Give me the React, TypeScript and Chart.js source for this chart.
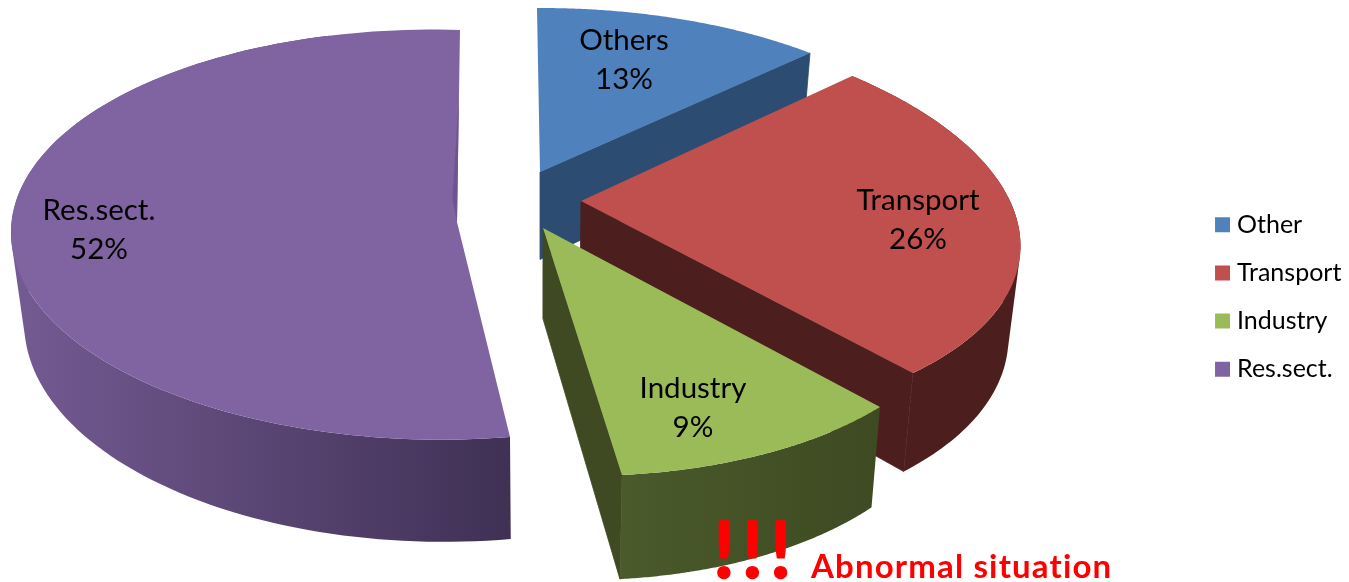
import React, { useEffect, useRef } from "react";
import { Chart, registerables } from "chart.js";

Chart.register(...registerables);

// ---- data ----
const legendNames = ["Other", "Transport", "Industry", "Res.sect."];
const sliceNames = ["Others", "Transport", "Industry", "Res.sect."];
const sliceValues = [13, 26, 9, 52];

// ---- styles ----
const topColors = ["#4F81BD", "#C0504D", "#9BBB59", "#8064A2"];
const edgeColors = ["#2C4C71", "#4D1E1E", "#3F4922", "#3F3054"];
const rimStops: string[][] = [
  ["#2C4C71", "#2C4C71"],
  ["#4D1E1E", "#4D1E1E"],
  ["#4A5A2B", "#3E4A22"],
  ["#745B93", "#3F3054"],
];
const drawOrder = [3, 0, 1, 2];
const hasEdgeWall = [true, true, true, false];
const hasRimWall = [false, true, true, true];
const rimWallShare = [0, 1, 1, 0.9];

// ---- 3D view: where each exploded slice lands on the page ----
const apexes = [[540, 172], [581, 201], [543, 228], [457, 222]];
const rimStart = [[537, 8], [852, 76], [880, 407], [510, 437]];
const rimMiddle = [[680, 19], [1017, 220], [768, 453], [11, 231]];
const rimEnd = [[810, 53], [913, 373], [622, 475], [460, 30]];
const labelSpots = [[624, 59.5], [918, 219.5], [693, 407.5], [99, 229.5]];

function solve(m: number[][]): number[] {
  const n = m.length;
  for (let i = 0; i < n; i++) {
    let p = i;
    for (let r = i + 1; r < n; r++) if (Math.abs(m[r][i]) > Math.abs(m[p][i])) p = r;
    [m[i], m[p]] = [m[p], m[i]];
    for (let r = 0; r < n; r++) {
      if (r === i) continue;
      const f = m[r][i] / m[i][i];
      for (let c = i; c <= n; c++) m[r][c] -= f * m[i][c];
    }
  }
  return m.map((row, i) => row[n] / row[i]);
}

function makeProjection(arc: any, i: number) {
  const [ax, ay] = apexes[i];
  const s = arc.startAngle;
  const e = arc.endAngle;
  const angles = [s, (s + e) / 2, e];
  const targets = [rimStart[i], rimMiddle[i], rimEnd[i]];
  const rows: number[][] = [];
  angles.forEach((t, k) => {
    const c = Math.cos(t);
    const d = Math.sin(t);
    const x = targets[k][0] - ax;
    const y = targets[k][1] - ay;
    rows.push([c, d, 0, 0, -x * c, -x * d, x]);
    rows.push([0, 0, c, d, -y * c, -y * d, y]);
  });
  const [p, q, r, u, g, h] = solve(rows);
  return (t: number) => {
    const c = Math.cos(t);
    const d = Math.sin(t);
    const w = 1 + g * c + h * d;
    return [ax + (p * c + q * d) / w, ay + (r * c + u * d) / w];
  };
}

const drop = (pt: number[]) => [pt[0] - (pt[0] - 540) * 0.025, pt[1] + 78 + 0.055 * pt[1]];

function trace(ctx: CanvasRenderingContext2D, pts: number[][]) {
  ctx.beginPath();
  pts.forEach((pt, i) => (i ? ctx.lineTo(pt[0], pt[1]) : ctx.moveTo(pt[0], pt[1])));
  ctx.closePath();
}

// Side wall of the rim: the union of all small quads swept from rim to its drop.
function traceSweep(ctx: CanvasRenderingContext2D, rim: number[][]) {
  ctx.beginPath();
  for (let k = 0; k < rim.length - 1; k++) {
    let q = [rim[k], rim[k + 1], drop(rim[k + 1]), drop(rim[k])];
    let area = 0;
    q.forEach((a, j) => {
      const b = q[(j + 1) % 4];
      area += a[0] * b[1] - b[0] * a[1];
    });
    if (area < 0) q = q.reverse();
    q.forEach((pt, j) => (j ? ctx.lineTo(pt[0], pt[1]) : ctx.moveTo(pt[0], pt[1])));
    ctx.closePath();
  }
}

const pie3d = {
  id: "pie3d",
  beforeDatasetDraw(chart: any) {
    const ctx: CanvasRenderingContext2D = chart.ctx;
    const arcs = chart.getDatasetMeta(0).data;
    drawOrder.forEach((i) => {
      const arc = arcs[i];
      const project = makeProjection(arc, i);
      const rim: number[][] = [];
      const steps = 120;
      for (let k = 0; k <= steps; k++) {
        rim.push(project(arc.startAngle + ((arc.endAngle - arc.startAngle) * k) / steps));
      }
      const apex = apexes[i];
      const end = rim[rim.length - 1];
      ctx.lineWidth = 0.8;
      ctx.lineJoin = "round";
      if (hasEdgeWall[i]) {
        ctx.fillStyle = edgeColors[i];
        ctx.strokeStyle = edgeColors[i];
        trace(ctx, [apex, end, drop(end), drop(apex)]);
        ctx.fill();
        ctx.stroke();
      }
      if (hasRimWall[i]) {
        const xs = rim.map((p) => p[0]);
        const grad = ctx.createLinearGradient(Math.min(...xs), 0, Math.max(...xs), 0);
        grad.addColorStop(0, rimStops[i][0]);
        grad.addColorStop(1, rimStops[i][1]);
        ctx.fillStyle = grad;
        traceSweep(ctx, rim.slice(0, Math.round(steps * rimWallShare[i]) + 1));
        ctx.fill();
      }
      ctx.fillStyle = arc.options.backgroundColor;
      trace(ctx, [apex, ...rim]);
      ctx.fill();
      if (i === 3) {
        // thin shaded sliver along the back edge of the big slice
        ctx.fillStyle = "#6E5590";
        const t = 0.12;
        const tip = [apex[0] + (end[0] - apex[0]) * t - 5, apex[1] + (end[1] - apex[1]) * t];
        trace(ctx, [apex, tip, [apex[0] + (end[0] - apex[0]) * 0.65, apex[1] + (end[1] - apex[1]) * 0.65]]);
        ctx.fill();
      }
    });
    return false;
  },
  afterDatasetsDraw(chart: any) {
    const ctx: CanvasRenderingContext2D = chart.ctx;
    ctx.save();
    ctx.fillStyle = "#000";
    ctx.textAlign = "center";
    ctx.textBaseline = "middle";
    ctx.font = '29.5px Lato, "Noto Sans", sans-serif';
    sliceNames.forEach((name, i) => {
      const [x, y] = labelSpots[i];
      ctx.fillText(name, x, y - 19.5);
      ctx.fillText(`${sliceValues[i]}%`, x, y + 19.5);
    });
    ctx.fillStyle = "#FF0000";
    ctx.strokeStyle = "#FF0000";
    ctx.lineWidth = 1.5;
    ctx.textAlign = "left";
    ctx.textBaseline = "alphabetic";
    ctx.font = 'bold 78px Lato, "Noto Sans", sans-serif';
    (ctx as any).letterSpacing = "6.5px";
    ctx.fillText("!!!", 713, 578);
    ctx.strokeText("!!!", 713, 578);
    (ctx as any).letterSpacing = "1.15px";
    ctx.font = 'bold 33px Lato, "Noto Sans", sans-serif';
    ctx.fillText("Abnormal situation", 811, 578);
    ctx.restore();
  },
};

export default function App() {
  const ref = useRef<HTMLCanvasElement>(null);
  useEffect(() => {
    const chart = new Chart(ref.current as HTMLCanvasElement, {
      type: "pie",
      data: {
        labels: legendNames,
        datasets: [{ data: sliceValues, backgroundColor: topColors, borderWidth: 0 }],
      },
      options: {
        responsive: false,
        animation: false,
        rotation: 0,
        layout: { padding: { top: 12, right: -2.4 } },
        plugins: {
          tooltip: { enabled: false },
          legend: {
            position: "right",
            labels: {
              color: "#000",
              font: { family: 'Lato, "Noto Sans", sans-serif', size: 25, lineHeight: 1.2 },
              boxWidth: 4,
              boxHeight: 4,
              padding: 23.2,
              generateLabels: () =>
                legendNames.map((text, i) => ({
                  text,
                  fillStyle: topColors[i],
                  strokeStyle: topColors[i],
                  lineWidth: 11,
                  index: i,
                  hidden: false,
                })),
            },
          },
        },
      },
      plugins: [pie3d],
    } as any);
    return () => chart.destroy();
  }, []);
  return (
    <div style={{ position: "absolute", left: 0, top: 0, width: 1349, height: 582, background: "#fff" }}>
      <canvas ref={ref} width={1349} height={582} style={{ display: "block" }} />
    </div>
  );
}
